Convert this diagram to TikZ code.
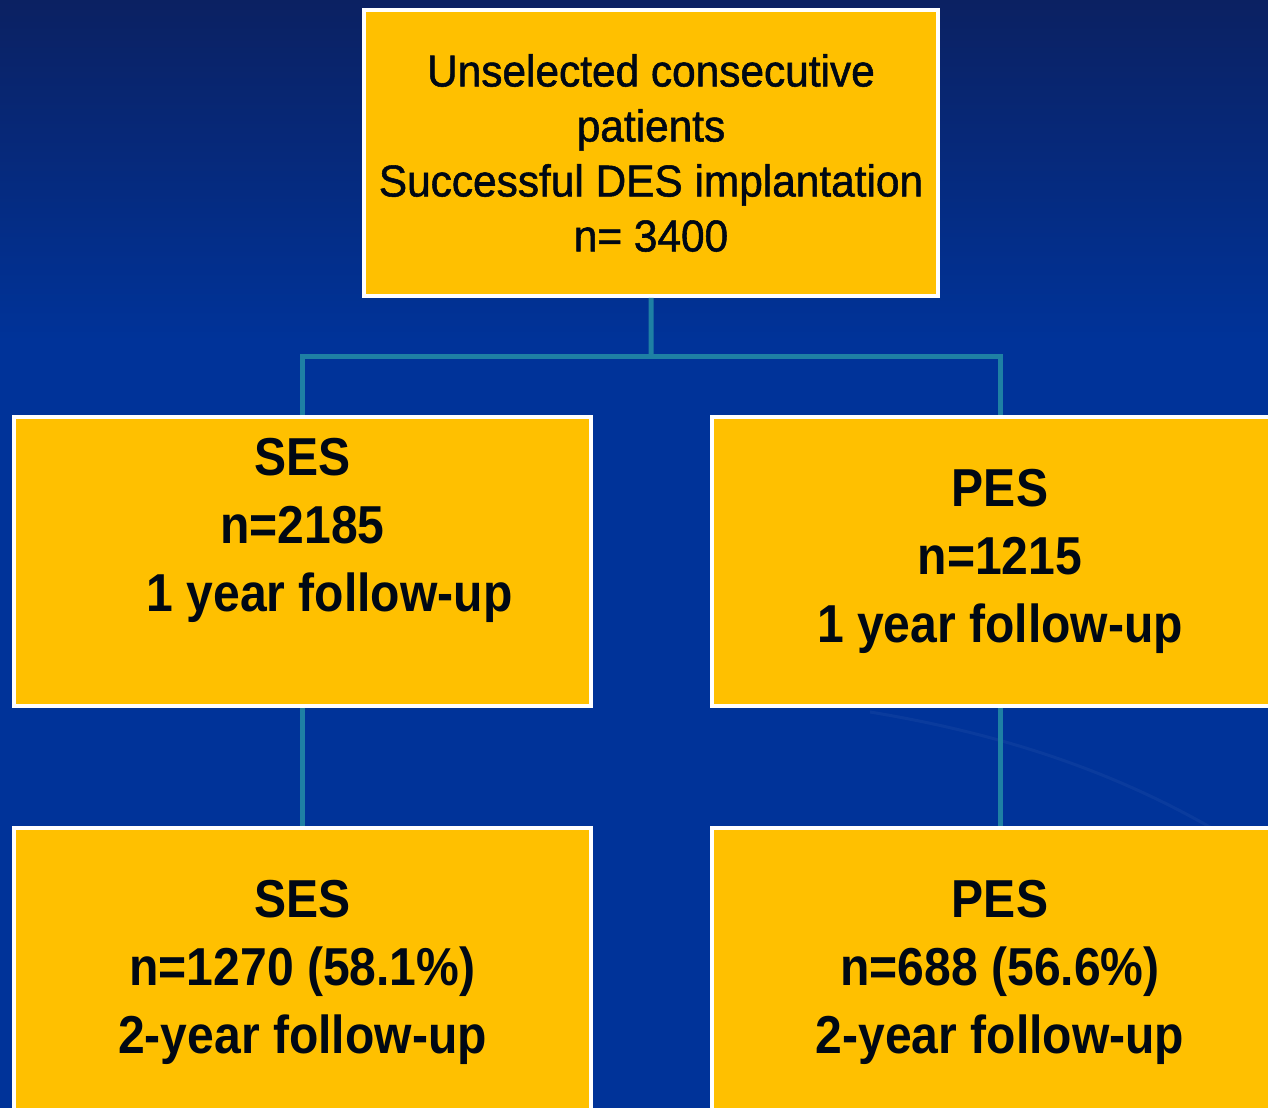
\documentclass[tikz,border=0pt]{standalone}
\usepackage{fontspec}
\setmainfont{Liberation Sans}
\newfontfamily\cohortfont[FakeStretch=0.95,FakeBold=1.2]{Liberation Sans}
\newfontfamily\armfont[FakeStretch=0.9]{Liberation Sans}
\usepackage{xcolor}
\usepackage{tikz}
\usetikzlibrary{positioning,calc}

\definecolor{navytop}{HTML}{0B2162}
\definecolor{slideblue}{HTML}{003399}
\definecolor{boxgold}{HTML}{FFC000}
\definecolor{linkteal}{HTML}{1E80A4}
\definecolor{inkblack}{HTML}{000814}

\begin{document}
\begin{tikzpicture}[
    x=0.02cm, y=-0.02cm,
    box/.style={rectangle, draw=white, line width=0.08cm, fill=boxgold, inner sep=0pt, text=inkblack, align=center},
    cohortbox/.style={box, minimum width=11.48cm, minimum height=5.72cm, font=\cohortfont\fontsize{25.4pt}{31.3pt}\selectfont},
    armbox/.style={box, minimum width=11.54cm, minimum height=5.78cm},
    armtext/.style={text=inkblack, align=center, font=\armfont\bfseries\fontsize{30.4pt}{38.7pt}\selectfont},
    link/.style={draw=linkteal, line width=0.1cm}
]
\useasboundingbox (0,0) rectangle (1268,1108);
\clip (0,0) rectangle (1268,1108);

% slide background
\shade[top color=navytop, bottom color=slideblue] (0,0) rectangle (1268,341);
\fill[slideblue] (0,340) rectangle (1268,1108);
\draw[white, opacity=0.04, line width=0.06cm] (870,712) .. controls (1010,735) and (1120,775) .. (1215,830);

% all patients
\node[cohortbox] (cohort) at (651,153) {Unselected consecutive\\patients\\Successful DES implantation\\n= 3400};

% 1 year
\node[armbox] (ses1) at (302.5,561.5) {};
\node[armtext] (ses1txt) at ([yshift=0.62cm]ses1.center) {SES\\n=2185\\\hspace*{1.08cm}1 year follow-up};
\node[armbox, armtext] (pes1) at (1000,561.5) {PES\\n=1215\\1 year follow-up};

% 2 years
\node[armbox, armtext, minimum height=5.76cm] (ses2) at (302.5,972) {SES\\n=1270 (58.1\%)\\2-year follow-up};
\node[armbox, armtext, minimum height=5.76cm] (pes2) at (1000,972) {PES\\n=688 (56.6\%)\\2-year follow-up};

% tree lines
\coordinate (fork) at ($(cohort.south)!0.5!(cohort.south |- ses1.north)$);
\draw[link] (cohort.south) -- (fork);
\draw[link] (ses1.north) |- (fork) -| (pes1.north);
\draw[link] (ses1) -- (ses2);
\draw[link] (pes1) -- (pes2);

\end{tikzpicture}
\end{document}
